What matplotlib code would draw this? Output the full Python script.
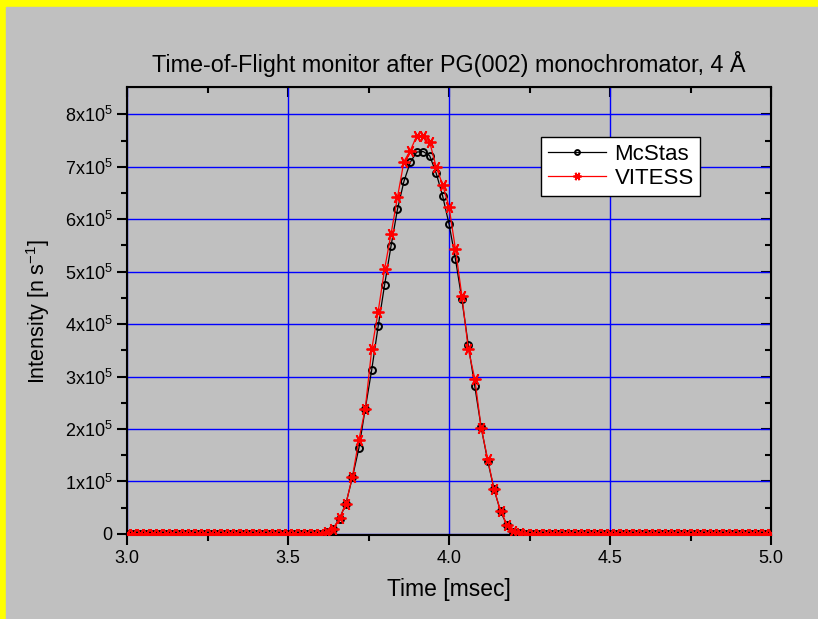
import matplotlib
matplotlib.use("Agg")
import matplotlib.pyplot as plt
import numpy as np

plt.rcParams['font.family'] = ['Liberation Sans', 'DejaVu Sans']
plt.rcParams['mathtext.fontset'] = 'custom'
plt.rcParams['mathtext.rm'] = 'Liberation Sans'
plt.rcParams['mathtext.it'] = 'Liberation Sans:italic'

# time grid of both monitors (msec), 0.02 ms bins
time = np.round(np.arange(3.0, 5.0001, 0.02), 2)

# non-zero part of the pulse (values in 1e5 n/s)
peak_time = [3.60, 3.62, 3.64, 3.66, 3.68, 3.70, 3.72, 3.74, 3.76, 3.78,
             3.80, 3.82, 3.84, 3.86, 3.88, 3.90, 3.92, 3.94, 3.96, 3.98,
             4.00, 4.02, 4.04, 4.06, 4.08, 4.10, 4.12, 4.14, 4.16, 4.18,
             4.20, 4.22]
mcstas_peak = [0.005, 0.04, 0.10, 0.29, 0.58, 1.08, 1.63, 2.39, 3.13, 3.96,
               4.75, 5.49, 6.19, 6.72, 7.09, 7.28, 7.29, 7.21, 6.88, 6.45,
               5.91, 5.24, 4.47, 3.60, 2.82, 2.03, 1.40, 0.85, 0.43, 0.17,
               0.04, 0.01]
vitess_peak = [0.005, 0.04, 0.10, 0.30, 0.58, 1.09, 1.79, 2.39, 3.52, 4.24,
               5.05, 5.72, 6.42, 7.10, 7.31, 7.59, 7.59, 7.47, 7.00, 6.66,
               6.24, 5.43, 4.54, 3.52, 2.96, 2.02, 1.43, 0.85, 0.44, 0.18,
               0.05, 0.01]

# everything outside the pulse reads as zero
mcstas = np.zeros(len(time))
vitess = np.zeros(len(time))
for t, m, v in zip(peak_time, mcstas_peak, vitess_peak):
    i = int(round((t - 3.0) / 0.02))
    mcstas[i] = m * 1e5
    vitess[i] = v * 1e5

gray = '#c0c0c0'
fig = plt.figure(figsize=(8.18, 6.19), dpi=100, facecolor='#ffff00')
# gray panel inside the yellow frame (frame only on left and top)
fig.patches.append(plt.Rectangle((6 / 818, -0.01), 1.01, 1.01 - 7 / 619,
                                 transform=fig.transFigure, color=gray,
                                 zorder=-10))

ax = fig.add_axes([127 / 818, 84 / 619, 644 / 818, 447.7 / 619])
ax.set_facecolor(gray)

ax.plot(time, mcstas, color='black', lw=0.9, marker='o', ms=5,
        mfc='none', mec='black', mew=1.4, label='McStas', zorder=3)
ax.plot(time, vitess, color='red', lw=0.9, marker=(6, 2, 30), ms=8.5,
        mec='red', mew=1.3, label='VITESS', zorder=4)

ax.set_xlim(3.0, 5.0)
ax.set_ylim(-2000, 8.515e5)

ax.set_xticks([3.0, 3.5, 4.0, 4.5, 5.0])
ax.set_xticks([3.25, 3.75, 4.25, 4.75], minor=True)
ax.set_xticklabels(['3.0', '3.5', '4.0', '4.5', '5.0'])
yt = np.arange(0, 9) * 1e5
ax.set_yticks(yt)
ax.set_yticks(np.arange(0.5, 8.5, 1) * 1e5, minor=True)
ax.set_yticklabels(['0'] + [r'%dx10$^{5}$' % k for k in range(1, 9)])

ax.grid(True, which='major', color='#0000ff', lw=1.0)
ax.set_axisbelow(True)

ax.tick_params(which='both', direction='out', width=1.5, labelsize=13,
               top=False, right=False)
ax.tick_params(which='major', length=7)
ax.tick_params(which='minor', length=4)
for s in ax.spines.values():
    s.set_linewidth(1.5)

# top and right ticks point inwards
top = ax.secondary_xaxis('top')
top.set_xticks([3.0, 3.5, 4.0, 4.5, 5.0])
top.set_xticks([3.25, 3.75, 4.25, 4.75], minor=True)
top.tick_params(which='both', direction='in', width=1.5, labeltop=False)
top.tick_params(which='major', length=7)
top.tick_params(which='minor', length=4)
right = ax.secondary_yaxis('right')
right.set_yticks(yt)
right.set_yticks(np.arange(0.5, 8.5, 1) * 1e5, minor=True)
right.tick_params(which='both', direction='in', width=1.5, labelright=False)
right.tick_params(which='major', length=7)
right.tick_params(which='minor', length=4)

ax.set_xlabel('Time [msec]', fontsize=16.5, labelpad=8)
ax.set_ylabel(r'Intensity [n s$^{\mathrm{-1}}$]', fontsize=15.5, labelpad=9)
ax.set_title('Time-of-Flight monitor after PG(002) monochromator, 4 Å',
             fontsize=16.8, pad=11)

leg = ax.legend(loc='upper left', bbox_to_anchor=(0.643, 0.889),
                borderaxespad=0, fontsize=16, fancybox=False, framealpha=1,
                edgecolor='black', numpoints=1, handlelength=2.6,
                handletextpad=0.4, borderpad=0.3, labelspacing=0.15,
                markerscale=0.7)
leg.get_frame().set_linewidth(1.0)

fig.savefig('out.png', dpi=100, facecolor=fig.get_facecolor())
